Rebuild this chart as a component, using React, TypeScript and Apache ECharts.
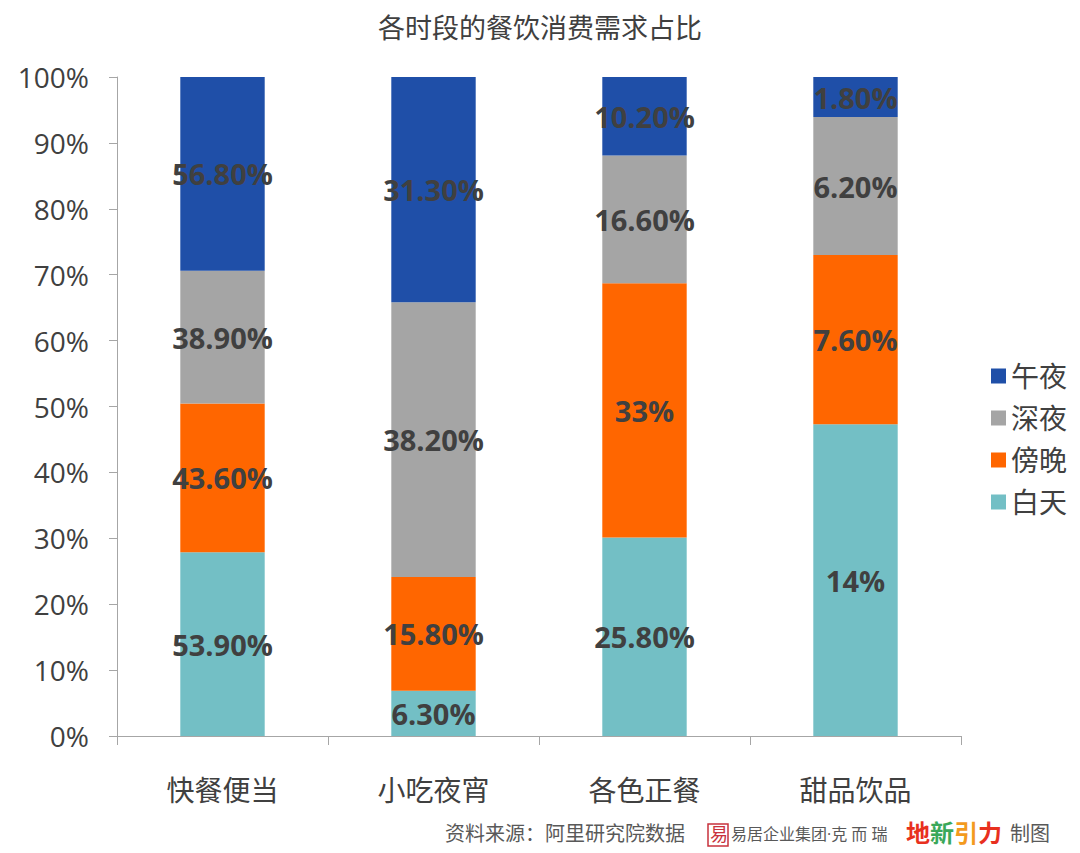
import React, { useEffect, useRef } from "react";
import * as echarts from "echarts";

const categories = ["快餐便当", "小吃夜宵", "各色正餐", "甜品饮品"];
const seriesNames = ["白天", "傍晚", "深夜", "午夜"];
const daytime = [53.9, 6.3, 25.8, 14];
const evening = [43.6, 15.8, 33, 7.6];
const lateNight = [38.9, 38.2, 16.6, 6.2];
const midnight = [56.8, 31.3, 10.2, 1.8];
const colors = ["#73BFC5", "#FF6600", "#A5A5A5", "#1F4FA8"];
const yTicks = [0, 10, 20, 30, 40, 50, 60, 70, 80, 90, 100];

const fmt = (v: number) => (Number.isInteger(v) ? String(v) : v.toFixed(2)) + "%";

export default function App() {
  const ref = useRef<HTMLDivElement>(null);
  useEffect(() => {
    const chart = echarts.init(ref.current!, undefined, { renderer: "svg" });
    const raw = [daytime, evening, lateNight, midnight];
    const totals = categories.map((_, i) => raw.reduce((s, arr) => s + arr[i], 0));
    const font = '"Open Sans", "Noto Sans CJK SC", sans-serif';
    const series = raw.map((arr, si) => ({
      name: seriesNames[si],
      type: "bar",
      stack: "total",
      barWidth: "40%",
      itemStyle: { color: colors[si] },
      label: {
        show: true,
        position: "inside",
        formatter: (p: any) => fmt(arr[p.dataIndex]),
        color: "#404040",
        fontSize: 29,
        fontWeight: "bold",
        fontFamily: font,
      },
      data: arr.map((v, i) => (v / totals[i]) * 100),
    }));
    chart.setOption({
      animation: false,
      title: {
        text: "各时段的餐饮消费需求占比",
        left: "center",
        top: 9,
        textStyle: { fontSize: 27, fontWeight: "normal", color: "#404040", fontFamily: font },
      },
      legend: {
        orient: "vertical",
        left: 986,
        top: 357,
        itemWidth: 15,
        itemHeight: 15,
        itemGap: 14,
        data: ["午夜", "深夜", "傍晚", "白天"],
        textStyle: { fontSize: 28, color: "#404040", fontFamily: font },
        icon: "rect",
      },
      grid: { left: 117, right: 119, top: 77, bottom: 117, containLabel: false },
      xAxis: {
        type: "category",
        data: categories,
        axisLine: { lineStyle: { color: "#A6A6A6" } },
        axisTick: { show: true, length: 9, lineStyle: { color: "#A6A6A6" } },
        axisLabel: { fontSize: 28, color: "#404040", margin: 40, fontFamily: font },
      },
      yAxis: {
        type: "value",
        min: 0,
        max: 100,
        interval: 10,
        axisLine: { show: true, lineStyle: { color: "#A6A6A6" } },
        axisTick: { show: true, length: 8, lineStyle: { color: "#A6A6A6" } },
        splitLine: { show: false },
        axisLabel: {
          fontSize: 28,
          color: "#404040",
          margin: 28,
          fontFamily: font,
          formatter: (v: number) => (yTicks.includes(v) ? v + "%" : ""),
        },
      },
      graphic: [
        { type: "text", left: 445, top: 823, style: { text: "资料来源：阿里研究院数据", fontSize: 20, fill: "#595959", fontFamily: font } },
        { type: "rect", shape: { x: 708, y: 824, width: 20, height: 22 }, style: { fill: "#fff", stroke: "#C8323C", lineWidth: 1.5 } },
        { type: "text", left: 710, top: 825, style: { text: "易", fontSize: 18, fill: "#C8323C", fontFamily: font } },
        { type: "text", left: 731, top: 826, style: { text: "易居企业集团·克 而 瑞", fontSize: 16, fill: "#595959", fontFamily: font } },
        { type: "text", left: 906, top: 820, style: { text: "地", fontSize: 24, fill: "#E8301E", fontWeight: "bold", fontFamily: font } },
        { type: "text", left: 930, top: 820, style: { text: "新", fontSize: 24, fill: "#3AA85A", fontWeight: "bold", fontFamily: font } },
        { type: "text", left: 954, top: 820, style: { text: "引", fontSize: 24, fill: "#F39A1E", fontWeight: "bold", fontFamily: font } },
        { type: "text", left: 978, top: 820, style: { text: "力", fontSize: 24, fill: "#E8301E", fontWeight: "bold", fontFamily: font } },
        { type: "text", left: 1010, top: 823, style: { text: "制图", fontSize: 20, fill: "#595959", fontFamily: font } },
      ],
      series,
    });
    return () => chart.dispose();
  }, []);
  return <div ref={ref} style={{ width: 1080, height: 853, position: "absolute", left: 0, top: 0 }} />;
}
